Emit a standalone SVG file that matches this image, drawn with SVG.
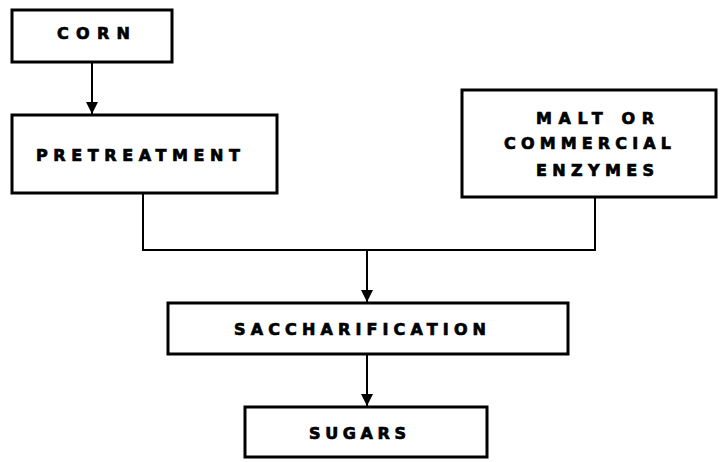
<svg xmlns="http://www.w3.org/2000/svg" width="720" height="462" viewBox="0 0 720 462">
  <style>
    .box { fill: #ffffff; stroke: #000000; stroke-width: 3; }
    .lbl { font-family: "DejaVu Sans", "Liberation Sans", Arial, sans-serif; font-weight: 900; font-size: 16px; fill: #000000; stroke: #000000; stroke-width: 0.7; }
    .wire { fill: none; stroke: #000000; stroke-width: 2; }
  </style>
  <defs>
    <marker id="arrow" viewBox="0 0 12 12" refX="12" refY="6" markerWidth="12" markerHeight="12" markerUnits="userSpaceOnUse" orient="auto">
      <path d="M0,0 L12,6 L0,12 Z" fill="#000000"/>
    </marker>
  </defs>
  <rect width="720" height="462" fill="#ffffff"/>

  <g id="connectors">
    <line class="wire" x1="92" y1="62" x2="92" y2="114" marker-end="url(#arrow)"/>
    <polyline class="wire" points="143,193 143,250 595,250 595,197"/>
    <line class="wire" x1="367" y1="250" x2="367" y2="302" marker-end="url(#arrow)"/>
    <line class="wire" x1="367" y1="354" x2="367" y2="406" marker-end="url(#arrow)"/>
  </g>

  <g id="corn">
    <rect class="box" x="12" y="10" width="160" height="52"/>
    <text class="lbl" x="57" y="39" textLength="73" lengthAdjust="spacing">CORN</text>
  </g>

  <g id="pretreatment">
    <rect class="box" x="12" y="115" width="265" height="78"/>
    <text class="lbl" x="36" y="161" textLength="204" lengthAdjust="spacing">PRETREATMENT</text>
  </g>

  <g id="enzymes">
    <rect class="box" x="462" y="90" width="254" height="107"/>
    <text class="lbl" x="536" y="124" textLength="118" lengthAdjust="spacing">MALT  OR</text>
    <text class="lbl" x="504" y="149" textLength="167" lengthAdjust="spacing">COMMERCIAL</text>
    <text class="lbl" x="536" y="176" textLength="118" lengthAdjust="spacing">ENZYMES</text>
  </g>

  <g id="saccharification">
    <rect class="box" x="168" y="303" width="400" height="51"/>
    <text class="lbl" x="234" y="335" textLength="252" lengthAdjust="spacing">SACCHARIFICATION</text>
  </g>

  <g id="sugars">
    <rect class="box" x="245" y="407" width="242" height="50"/>
    <text class="lbl" x="309" y="439" textLength="97" lengthAdjust="spacing">SUGARS</text>
  </g>
</svg>
